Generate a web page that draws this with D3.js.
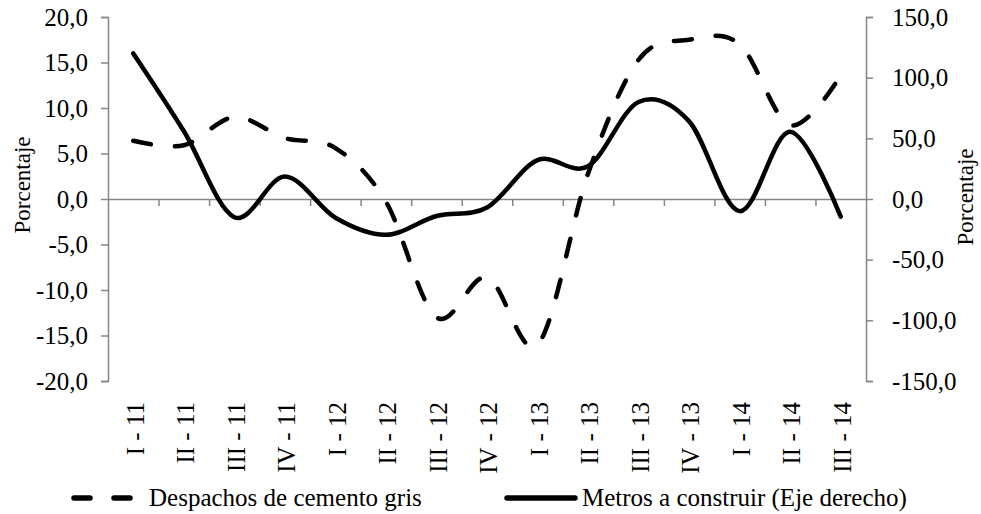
<!DOCTYPE html>
<html>
<head>
<meta charset="utf-8">
<script src="https://cdn.jsdelivr.net/npm/d3@7/dist/d3.min.js"></script>
<style>
  body { margin: 0; background: #fff; }
  svg text { font-family: "Liberation Serif", "Times New Roman", serif; fill: #000; }
</style>
</head>
<body>
<div id="graph"></div>
<script>
// categories (quarter - year)
const quarters = ["I - 11", "II - 11", "III - 11", "IV - 11",
  "I - 12", "II - 12", "III - 12", "IV - 12",
  "I - 13", "II - 13", "III - 13", "IV - 13",
  "I - 14", "II - 14", "III - 14"]

// Despachos de cemento gris (left axis, %)
const despachos = [6.4, 5.9, 9.0, 6.7, 5.6, -0.3, -13.0, -8.6, -16.0, 2.8, 15.3, 17.5, 17.0, 8.1, 13.6]

// Metros a construir (right axis, %)
const metros = [120, 56, -15, 18.5, -15.5, -29.5, -14, -7, 32, 27, 80, 64, -10, 55.5, -14.5]

const leftTicks = [-20, -15, -10, -5, 0, 5, 10, 15, 20]
const rightTicks = [-150, -100, -50, 0, 50, 100, 150]

const W = 981, H = 514
const margin = { top: 17, right: 115, bottom: 133, left: 108 }
const width = W - margin.left - margin.right
const height = H - margin.top - margin.bottom
const axisColor = "#868686"
const serif = '"Liberation Serif", "Times New Roman", serif'
// Excel style: comma decimal, plain hyphen for minus
const fmt = v => d3.format(".1f")(v).replace(".", ",").replace("\u2212", "-")

const svg = d3.select("#graph").append("svg")
  .attr("width", W)
  .attr("height", H)
  .append("g")
  .attr("transform", "translate(" + margin.left + "," + margin.top + ")");

const x = d3.scaleBand().domain(quarters).range([0, width]).padding(0)
const xEdge = d3.scaleLinear().domain([0, quarters.length]).range([0, width])
const yLeft = d3.scaleLinear().domain([-20, 20]).range([height, 0])
const yRight = d3.scaleLinear().domain([-150, 150]).range([height, 0])
const cx = d => x(d) + x.bandwidth() / 2

// left axis
const gL = svg.append("g")
  .call(d3.axisLeft(yLeft).tickValues(leftTicks).tickFormat(fmt).tickSize(7).tickSizeOuter(7).tickPadding(13))

// right axis
const gR = svg.append("g")
  .attr("transform", "translate(" + width + ",0)")
  .call(d3.axisRight(yRight).tickValues(rightTicks).tickFormat(fmt).tickSize(7).tickSizeOuter(7).tickPadding(19))

gL.attr("font-family", serif).attr("font-size", 25)
gR.attr("font-family", serif).attr("font-size", 25)

// category axis on the zero line, ticks between categories
svg.append("g")
  .attr("transform", "translate(0," + yLeft(0) + ")")
  .call(d3.axisBottom(xEdge).tickValues(d3.range(1, quarters.length)).tickSize(7).tickSizeOuter(0).tickFormat(""))

svg.selectAll(".domain, .tick line")
  .attr("stroke", axisColor)
  .attr("stroke-width", 1.5)

// category labels
svg.append("g").selectAll("text")
  .data(quarters)
  .enter()
  .append("text")
  .attr("transform", d => "translate(" + (cx(d) + 2) + "," + (height + 21) + ") rotate(-90)")
  .attr("text-anchor", "end")
  .attr("dy", "0.33em")
  .style("font-size", "25px")
  .text(d => d)

// axis titles
svg.append("text")
  .attr("transform", "translate(" + (22 - margin.left) + "," + (185 - margin.top) + ") rotate(-90)")
  .attr("text-anchor", "middle")
  .attr("dy", "0.33em")
  .style("font-size", "23px")
  .text("Porcentaje")

svg.append("text")
  .attr("transform", "translate(" + (965 - margin.left) + "," + (197 - margin.top) + ") rotate(-90)")
  .attr("text-anchor", "middle")
  .attr("dy", "0.33em")
  .style("font-size", "23px")
  .text("Porcentaje")

// lines
const lineL = d3.line()
  .x((d, i) => cx(quarters[i]))
  .y(d => yLeft(d))
  .curve(d3.curveCatmullRom.alpha(0))

const lineR = d3.line()
  .x((d, i) => cx(quarters[i]))
  .y(d => yRight(d))
  .curve(d3.curveCatmullRom.alpha(0))

svg.append("path")
  .datum(metros)
  .attr("d", lineR)
  .attr("fill", "none")
  .attr("stroke", "#000")
  .attr("stroke-width", 4.5)
  .attr("stroke-linecap", "round")

svg.append("path")
  .datum(despachos)
  .attr("d", lineL)
  .attr("fill", "none")
  .attr("stroke", "#000")
  .attr("stroke-width", 4.5)
  .attr("stroke-linecap", "round")
  .attr("stroke-dasharray", "18,24")

// legend
const legend = svg.append("g")
  .attr("transform", "translate(" + (-margin.left) + "," + (498 - margin.top) + ")")

legend.append("line")
  .attr("x1", 74).attr("x2", 134).attr("y1", 0).attr("y2", 0)
  .attr("stroke", "#000").attr("stroke-width", 5.5)
  .attr("stroke-linecap", "round")
  .attr("stroke-dasharray", "16,24")

legend.append("text")
  .attr("x", 149).attr("y", 0).attr("dy", "0.33em")
  .style("font-size", "25px")
  .text("Despachos de cemento gris")

legend.append("line")
  .attr("x1", 507).attr("x2", 575).attr("y1", 0).attr("y2", 0)
  .attr("stroke", "#000").attr("stroke-width", 5.5)
  .attr("stroke-linecap", "round")

legend.append("text")
  .attr("x", 582).attr("y", 0).attr("dy", "0.33em")
  .style("font-size", "25px")
  .text("Metros a construir (Eje derecho)")
</script>
</body>
</html>
